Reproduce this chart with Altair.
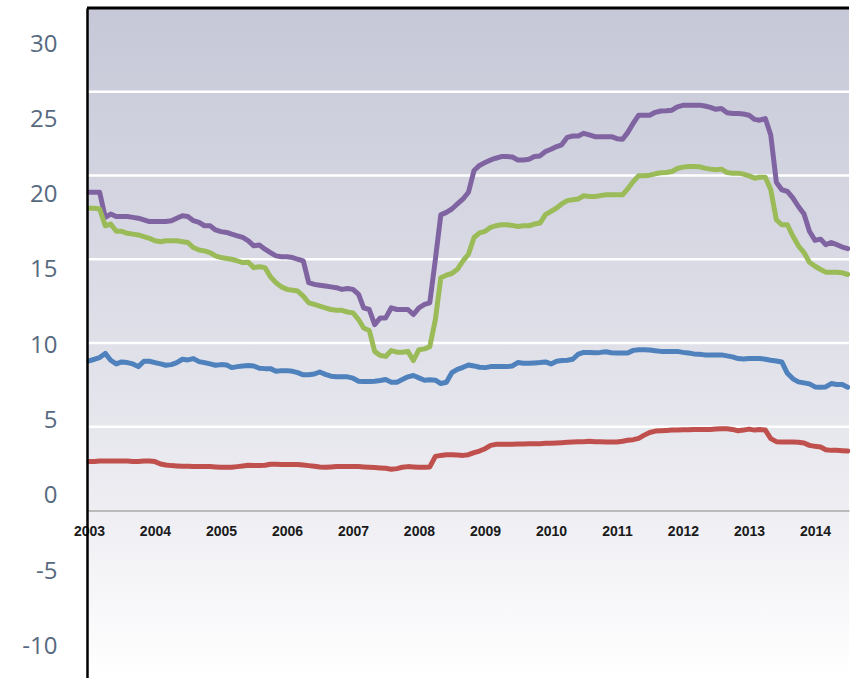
import altair as alt
import pandas as pd

# ---- data (monthly, Jan 2003 .. Jul 2014) ----
start_month = "2003-01-01"

purple = [19.0, 19.0, 19.0, 17.5, 17.7, 17.55, 17.55, 17.55, 17.5, 17.45,
          17.35, 17.25, 17.25, 17.25, 17.25, 17.3, 17.45, 17.6, 17.55, 17.3,
          17.2, 17.0, 17.0, 16.75, 16.65, 16.6, 16.5, 16.4, 16.3, 16.1,
          15.8, 15.85, 15.6, 15.4, 15.2, 15.15, 15.15, 15.1, 15.0, 14.9,
          13.6, 13.5, 13.45, 13.4, 13.35, 13.3, 13.2, 13.25, 13.2, 12.9,
          12.1, 12.0, 11.1, 11.5, 11.5, 12.1, 12.0, 12.0, 12.0, 11.7,
          12.1, 12.3, 12.4, 15.0, 17.65, 17.8, 18.0, 18.3, 18.6, 19.0,
          20.3, 20.6, 20.77, 20.93, 21.03, 21.13, 21.13, 21.1, 20.93, 20.93,
          20.97, 21.13, 21.17, 21.43, 21.57, 21.73, 21.83, 22.28, 22.36, 22.36,
          22.52, 22.42, 22.32, 22.32, 22.32, 22.32, 22.2, 22.16, 22.56, 23.12,
          23.6, 23.6, 23.6, 23.77, 23.85, 23.87, 23.9, 24.1, 24.19, 24.2,
          24.2, 24.2, 24.15, 24.07, 23.95, 24.0, 23.75, 23.7, 23.7, 23.67,
          23.6, 23.35, 23.3, 23.4, 22.42, 19.6, 19.15, 19.05, 18.65, 18.15,
          17.7, 16.67, 16.13, 16.2, 15.87, 16.0, 15.87, 15.73, 15.63]

green = [18.05, 18.05, 18.0, 17.0, 17.1, 16.67, 16.67, 16.55, 16.5, 16.45,
         16.35, 16.25, 16.1, 16.05, 16.1, 16.1, 16.1, 16.05, 16.0, 15.7,
         15.55, 15.5, 15.4, 15.2, 15.1, 15.05, 15.0, 14.9, 14.8, 14.82,
         14.5, 14.55, 14.5, 13.95, 13.6, 13.35, 13.2, 13.15, 13.1, 12.8,
         12.4, 12.3, 12.2, 12.1, 12.0, 11.95, 11.95, 11.85, 11.8, 11.4,
         10.9, 10.75, 9.5, 9.25, 9.2, 9.55, 9.45, 9.45, 9.5, 8.95,
         9.6, 9.65, 9.78, 11.4, 13.9, 14.05, 14.15, 14.4, 14.9, 15.3,
         16.3, 16.57, 16.67, 16.9, 17.0, 17.06, 17.06, 17.02, 16.96, 17.0,
         17.0, 17.1, 17.16, 17.66, 17.86, 18.06, 18.3, 18.5, 18.55, 18.6,
         18.79, 18.75, 18.75, 18.8, 18.85, 18.85, 18.85, 18.85, 19.2, 19.64,
         19.98, 19.98, 20.02, 20.1, 20.16, 20.18, 20.24, 20.42, 20.5, 20.54,
         20.54, 20.52, 20.44, 20.38, 20.34, 20.38, 20.18, 20.14, 20.14, 20.08,
         19.98, 19.84, 19.9, 19.9, 19.15, 17.36, 17.06, 17.06, 16.37, 15.8,
         15.4, 14.82, 14.58, 14.39, 14.23, 14.23, 14.23, 14.19, 14.09]

blue = [8.93, 9.03, 9.13, 9.38, 8.97, 8.75, 8.87, 8.83, 8.75, 8.59,
        8.91, 8.91, 8.83, 8.75, 8.67, 8.71, 8.83, 9.03, 8.99, 9.07,
        8.89, 8.83, 8.75, 8.67, 8.71, 8.69, 8.53, 8.59, 8.63, 8.65,
        8.63, 8.49, 8.47, 8.47, 8.31, 8.35, 8.35, 8.31, 8.23, 8.1,
        8.1, 8.15, 8.27, 8.13, 8.02, 7.98, 7.98, 7.98, 7.9, 7.72,
        7.7, 7.7, 7.72, 7.76, 7.82, 7.66, 7.66, 7.82, 7.98, 8.06,
        7.92, 7.78, 7.8, 7.78, 7.58, 7.66, 8.23, 8.43, 8.55, 8.69,
        8.63, 8.55, 8.53, 8.59, 8.59, 8.59, 8.59, 8.63, 8.83, 8.79,
        8.79, 8.81, 8.83, 8.87, 8.75, 8.91, 8.95, 8.97, 9.03, 9.33,
        9.44, 9.44, 9.42, 9.44, 9.48, 9.42, 9.4, 9.4, 9.4, 9.56,
        9.6, 9.6, 9.58, 9.54, 9.5, 9.5, 9.5, 9.5, 9.44, 9.4,
        9.35, 9.33, 9.29, 9.29, 9.29, 9.29, 9.23, 9.17, 9.07, 9.05,
        9.07, 9.07, 9.07, 9.03, 8.97, 8.93, 8.87, 8.19, 7.86, 7.68,
        7.62, 7.56, 7.38, 7.36, 7.38, 7.58, 7.52, 7.52, 7.36]

red = [2.92, 2.93, 2.95, 2.95, 2.95, 2.95, 2.95, 2.95, 2.93, 2.92,
       2.95, 2.96, 2.92, 2.78, 2.72, 2.68, 2.66, 2.64, 2.64, 2.62,
       2.62, 2.62, 2.62, 2.6, 2.58, 2.58, 2.58, 2.62, 2.66, 2.7,
       2.68, 2.68, 2.7, 2.76, 2.76, 2.74, 2.74, 2.74, 2.74, 2.72,
       2.68, 2.64, 2.6, 2.58, 2.6, 2.62, 2.62, 2.62, 2.62, 2.62,
       2.6, 2.58, 2.56, 2.54, 2.52, 2.46, 2.5, 2.58, 2.62, 2.6,
       2.58, 2.58, 2.6, 3.23, 3.29, 3.33, 3.33, 3.31, 3.29, 3.33,
       3.45, 3.55, 3.69, 3.89, 3.95, 3.95, 3.95, 3.95, 3.97, 3.97,
       3.99, 3.99, 3.99, 4.01, 4.01, 4.03, 4.05, 4.07, 4.09, 4.11,
       4.11, 4.13, 4.11, 4.11, 4.09, 4.09, 4.09, 4.13, 4.19, 4.23,
       4.31, 4.5, 4.66, 4.74, 4.76, 4.78, 4.8, 4.8, 4.82, 4.82,
       4.84, 4.84, 4.84, 4.84, 4.86, 4.88, 4.88, 4.84, 4.76, 4.8,
       4.86, 4.8, 4.84, 4.8, 4.29, 4.11, 4.09, 4.09, 4.09, 4.07,
       4.03, 3.89, 3.83, 3.79, 3.63, 3.59, 3.59, 3.57, 3.55]

series_names = ["Series D", "Series C", "Series A", "Series B"]
series_colors = ["#8064A2", "#9BBB59", "#4F81BD", "#C0504D"]
outer_ticks = [-10, -5, 0, 5, 10, 15, 20, 25, 30]
inner_grid = [5, 10, 15, 20, 25]
inner_top = [30]
year_ticks = list(range(2003, 2015))

rows = []
for name, vals in zip(series_names, [purple, green, blue, red]):
    dates = pd.date_range(start_month, periods=len(vals), freq="MS")
    for d, v in zip(dates, vals):
        rows.append({"date": d, "value": v, "series": name})
df = pd.DataFrame(rows)

x_scale = alt.Scale(domain=[alt.DateTime(year=2002, month=12, date=21),
                            alt.DateTime(year=2014, month=7, date=8)], nice=False)
inner_scale = alt.Scale(domain=[-10, 30], nice=False, zero=False)
outer_scale = alt.Scale(domain=[-12.1, 32.4], nice=False, zero=False)

# outer (left) axis: only its labels are shown
outer = alt.Chart(pd.DataFrame({"tick": outer_ticks})).mark_point(opacity=0).encode(
    y=alt.Y("tick:Q", scale=outer_scale,
            axis=alt.Axis(orient="left", values=outer_ticks, title=None, grid=False,
                          ticks=False, tickSize=0, domain=True, domainColor="#000000",
                          domainWidth=2.5, labelFont="Open Sans", labelFontSize=24,
                          labelColor="#56697f", labelPadding=30, zindex=2,
                          labelExpr="'' + datum.value"))
)

bg = alt.Chart(pd.DataFrame({"k": [0]})).mark_rect(
    color=alt.Gradient(
        gradient="linear",
        stops=[alt.GradientStop(color="#c6c8d8", offset=0),
               alt.GradientStop(color="#dcdde6", offset=0.45),
               alt.GradientStop(color="#eeeef3", offset=0.75),
               alt.GradientStop(color="#ffffff", offset=1)],
        x1=0, x2=0, y1=0, y2=1)
).encode(x=alt.value(0), x2=alt.value("width"), y=alt.value(0), y2=alt.value("height"))

grid = alt.Chart(pd.DataFrame({"g": inner_grid})).mark_rule(color="white", strokeWidth=2.5).encode(
    y=alt.Y("g:Q", scale=inner_scale, axis=None)
)

top_line = alt.Chart(pd.DataFrame({"t": inner_top})).mark_rule(color="black", strokeWidth=3).encode(
    y=alt.Y("t:Q", scale=inner_scale, axis=None)
)

lines = alt.Chart(df).mark_line(strokeWidth=5, strokeJoin="round", strokeCap="round").encode(
    x=alt.X("date:T", scale=x_scale,
            axis=alt.Axis(values=[alt.DateTime(year=y, month=1, date=1) for y in year_ticks],
                          format="%Y", offset=-167.5, title=None, grid=False, ticks=False,
                          domainColor="#a9a9a9", domainWidth=1.5,
                          labelFont="Liberation Sans",
                          labelFontSize=14, labelFontWeight="bold", labelColor="#1a1a1a",
                          labelPadding=14, labelFlush=False, labelOverlap=False, zindex=1)),
    y=alt.Y("value:Q", scale=inner_scale,
            axis=alt.Axis(orient="right", title=None, grid=False, labels=False, ticks=False,
                          domain=True, domainColor="#b8b8b8", domainWidth=1.5, zindex=1)),
    color=alt.Color("series:N", scale=alt.Scale(domain=series_names, range=series_colors),
                    legend=None),
)

inner = alt.layer(bg, grid, lines, top_line)

chart = alt.layer(outer, inner).resolve_scale(y="independent").properties(
    width=762, height=670,
    padding={"left": 87, "top": 8, "right": 1, "bottom": 0},
    autosize=alt.AutoSizeParams(type="none"),
    background="white",
).configure_view(stroke=None)

chart.save("out.html", embed_options={"renderer": "svg", "actions": False})
